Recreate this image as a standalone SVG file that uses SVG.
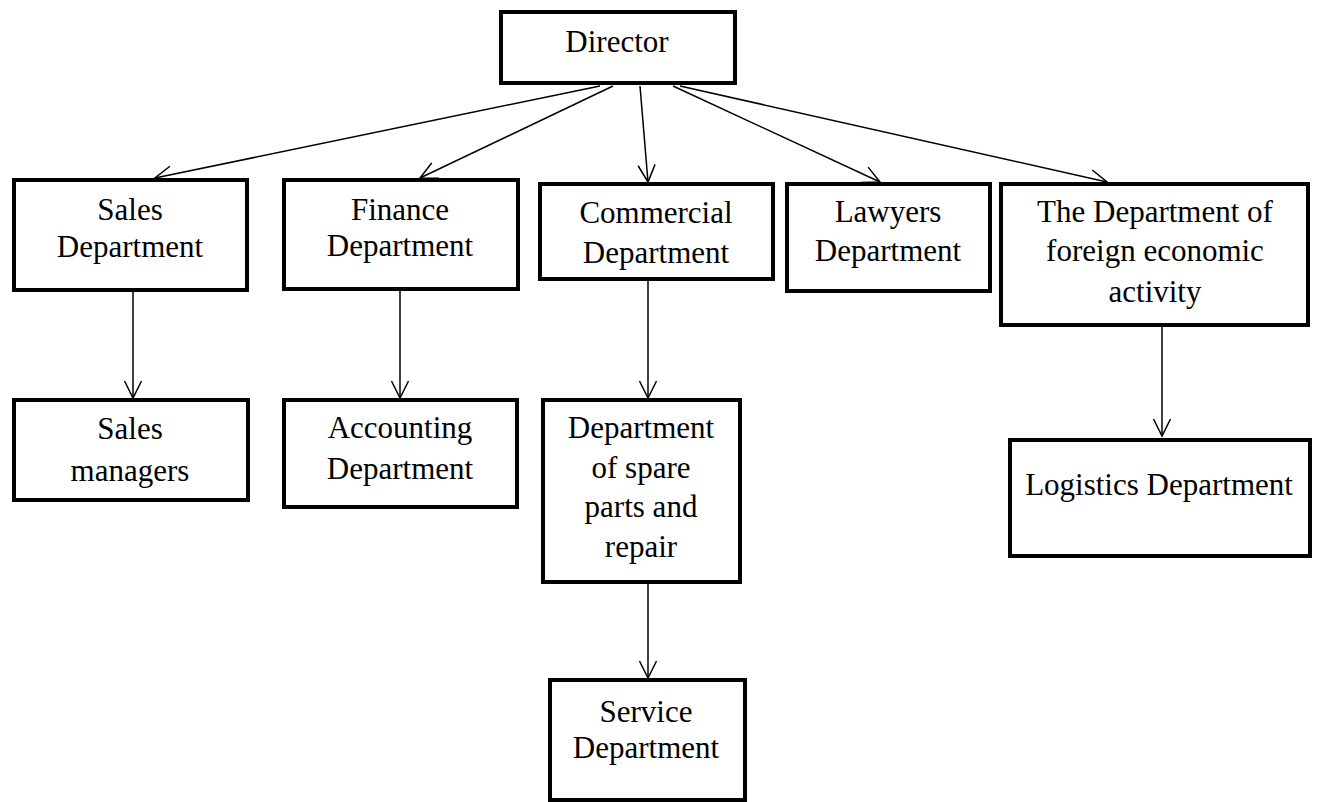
<svg xmlns="http://www.w3.org/2000/svg" width="1317" height="802" viewBox="0 0 1317 802">
  <style>
    .box { fill: #ffffff; stroke: #000000; stroke-width: 4; }
    .lbl { font-family: "Liberation Serif", "Times New Roman", serif; font-size: 31px; fill: #000000; text-anchor: middle; }
    .conn { stroke: #000000; stroke-width: 1.5; fill: none; marker-end: url(#arrow); }
  </style>
  <defs>
    <marker id="arrow" markerUnits="userSpaceOnUse" markerWidth="40" markerHeight="40" viewBox="-20 -20 40 40" refX="0" refY="0" orient="auto" overflow="visible">
      <path d="M -17 -8.5 L 0 0 L -17 8.5" fill="none" stroke="#000000" stroke-width="1.5"/>
    </marker>
  </defs>
  <rect width="1317" height="802" fill="#ffffff"/>

  <g id="connectors">
    <line class="conn" x1="600" y1="86" x2="155" y2="178"/>
    <line class="conn" x1="613" y1="86" x2="420" y2="178"/>
    <line class="conn" x1="640" y1="86" x2="648" y2="182"/>
    <line class="conn" x1="673" y1="86" x2="880" y2="182"/>
    <line class="conn" x1="680" y1="86" x2="1107" y2="182"/>
    <line class="conn" x1="133" y1="292" x2="133" y2="398"/>
    <line class="conn" x1="400" y1="291" x2="400" y2="398"/>
    <line class="conn" x1="648" y1="281" x2="648" y2="398"/>
    <line class="conn" x1="648" y1="584" x2="648" y2="678"/>
    <line class="conn" x1="1162" y1="327" x2="1162" y2="436"/>
  </g>

  <g id="director">
    <rect class="box" x="501" y="12" width="234" height="71"/>
    <text class="lbl" x="617" y="52">Director</text>
  </g>
  <g id="sales-department">
    <rect class="box" x="14" y="180" width="233" height="110"/>
    <text class="lbl" x="130" y="220">Sales</text>
    <text class="lbl" x="130" y="257">Department</text>
  </g>
  <g id="finance-department">
    <rect class="box" x="284" y="180" width="234" height="109"/>
    <text class="lbl" x="400" y="220">Finance</text>
    <text class="lbl" x="400" y="256">Department</text>
  </g>
  <g id="commercial-department">
    <rect class="box" x="540" y="184" width="233" height="95"/>
    <text class="lbl" x="656" y="223">Commercial</text>
    <text class="lbl" x="656" y="263">Department</text>
  </g>
  <g id="lawyers-department">
    <rect class="box" x="787" y="184" width="203" height="107"/>
    <text class="lbl" x="888" y="222">Lawyers</text>
    <text class="lbl" x="888" y="261">Department</text>
  </g>
  <g id="foreign-economic-department">
    <rect class="box" x="1001" y="184" width="307" height="141"/>
    <text class="lbl" x="1155" y="222">The Department of</text>
    <text class="lbl" x="1155" y="261">foreign economic</text>
    <text class="lbl" x="1155" y="302">activity</text>
  </g>
  <g id="sales-managers">
    <rect class="box" x="14" y="400" width="234" height="100"/>
    <text class="lbl" x="130" y="439">Sales</text>
    <text class="lbl" x="130" y="481">managers</text>
  </g>
  <g id="accounting-department">
    <rect class="box" x="284" y="400" width="233" height="107"/>
    <text class="lbl" x="400" y="438">Accounting</text>
    <text class="lbl" x="400" y="479">Department</text>
  </g>
  <g id="spare-parts-department">
    <rect class="box" x="543" y="400" width="197" height="182"/>
    <text class="lbl" x="641" y="438">Department</text>
    <text class="lbl" x="641" y="478">of spare</text>
    <text class="lbl" x="641" y="517">parts and</text>
    <text class="lbl" x="641" y="557">repair</text>
  </g>
  <g id="service-department">
    <rect class="box" x="550" y="680" width="195" height="120"/>
    <text class="lbl" x="646" y="722">Service</text>
    <text class="lbl" x="646" y="758">Department</text>
  </g>
  <g id="logistics-department">
    <rect class="box" x="1010" y="440" width="300" height="116"/>
    <text class="lbl" x="1159" y="495">Logistics Department</text>
  </g>
</svg>
